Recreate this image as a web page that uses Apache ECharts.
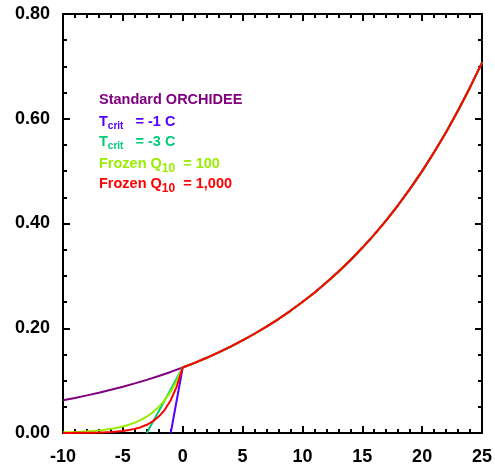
<!DOCTYPE html>
<html>
<head>
<meta charset="utf-8">
<script src="https://cdn.jsdelivr.net/npm/echarts@6/dist/echarts.min.js"></script>
<style>
  html, body { margin: 0; padding: 0; background: #fff; }
  #chart { width: 495px; height: 468px; }
</style>
</head>
<body>
<div id="chart"></div>
<script>
// standard ORCHIDEE curve (every 1 C)
const tempStd = [-10, -9, -8, -7, -6, -5, -4, -3, -2, -1, 0, 1, 2, 3, 4, 5, 6, 7, 8, 9, 10,
    11, 12, 13, 14, 15, 16, 17, 18, 19, 20, 21, 22, 23, 24, 25];
const respStd = [0.0625, 0.067, 0.0718, 0.0769, 0.0825, 0.0884, 0.0947, 0.1015, 0.1088, 0.1166, 0.125,
    0.134, 0.1436, 0.1539, 0.1649, 0.1768, 0.1895, 0.2031, 0.2176, 0.2333, 0.25,
    0.2679, 0.2872, 0.3078, 0.3299, 0.3536, 0.3789, 0.4061, 0.4353, 0.4665, 0.5,
    0.5359, 0.5743, 0.6156, 0.6598, 0.7071];

// frozen branches below 0 C (every 0.5 C)
const tempCold = [-10, -9.5, -9, -8.5, -8, -7.5, -7, -6.5, -6, -5.5, -5,
    -4.5, -4, -3.5, -3, -2.5, -2, -1.5, -1, -0.5, 0];
const respQ100 = [0.00125, 0.00157, 0.00198, 0.00249, 0.00314, 0.00395, 0.00498, 0.00627, 0.00789, 0.00993, 0.0125,
    0.0157, 0.0198, 0.0249, 0.0314, 0.0395, 0.0498, 0.0627, 0.0789, 0.0993, 0.125];
const respQ1000 = [0.000125, 0.000177, 0.00025, 0.00035, 0.0005, 0.0007, 0.00099, 0.0014, 0.00198, 0.0028, 0.00395,
    0.00558, 0.00789, 0.0111, 0.0157, 0.0222, 0.0314, 0.0443, 0.0627, 0.0885, 0.125];

// linear cut-offs
const tempCrit1 = [-1, 0];
const respCrit1 = [0, 0.125];
const tempCrit3 = [-3, 0];
const respCrit3 = [0, 0.125];

const xTicks = [-10, 25, 5];
const yTicks = [0, 0.8, 0.2];

const colors = {
    std: '#800080',
    crit1: '#5500ff',
    crit3: '#00cc77',
    q100: '#99ee00',
    q1000: '#ff0000'
};

function pairs(xs, ys) {
    return xs.map((x, i) => [x, ys[i]]);
}
// warm side is shared by every curve
const warm = pairs(tempStd, respStd).filter(p => p[0] > 0);

let chart = echarts.init(document.getElementById('chart'));

const tickLabel = { color: '#000', fontFamily: 'Liberation Sans', fontWeight: 'bold', fontSize: 18 };
const axisBase = {
    type: 'value',
    axisLine: { show: true, onZero: false, lineStyle: { color: '#000', width: 2 } },
    axisTick: { show: true, inside: true, length: 7, lineStyle: { color: '#000', width: 2 } },
    minorTick: { show: true, length: 4, lineStyle: { color: '#000', width: 2 } },
    splitLine: { show: false }
};

function lineSeries(name, data, color) {
    return {
        name, type: 'line', data, smooth: false,
        showSymbol: false, symbol: 'none', clip: true,
        lineStyle: { color, width: 2 }, xAxisIndex: 0, yAxisIndex: 0
    };
}

function label(y, parts, color) {
    return {
        type: 'text', left: 99, top: y,
        style: {
            text: parts, fill: color,
            rich: {
                b: { fontSize: 14.5, fontWeight: 'bold', fontFamily: 'Liberation Sans', lineHeight: 18, fill: color },
                s: { fontSize: 10, fontWeight: 'bold', fontFamily: 'Liberation Sans', lineHeight: 10, padding: [9, 0, 0, 0], fill: color },
                q: { fontSize: 12, fontWeight: 'bold', fontFamily: 'Liberation Sans', lineHeight: 12, padding: [11, 0, 0, 0], fill: color }
            }
        }
    };
}

const option = {
    animation: false,
    grid: { left: 63, right: 10, top: 14, bottom: 35 },
    xAxis: [
        Object.assign({}, axisBase, {
            min: xTicks[0], max: xTicks[1], interval: xTicks[2], position: 'bottom',
            minorTick: Object.assign({}, axisBase.minorTick, { splitNumber: 5 }),
            axisLabel: Object.assign({ margin: 15 }, tickLabel)
        }),
        Object.assign({}, axisBase, {
            min: xTicks[0], max: xTicks[1], interval: xTicks[2], position: 'top',
            minorTick: Object.assign({}, axisBase.minorTick, { splitNumber: 5 }),
            axisLabel: { show: false }
        })
    ],
    yAxis: [
        Object.assign({}, axisBase, {
            min: yTicks[0], max: yTicks[1], interval: yTicks[2], position: 'left',
            minorTick: Object.assign({}, axisBase.minorTick, { splitNumber: 4 }),
            axisLabel: Object.assign({ margin: 13, formatter: v => v.toFixed(2) }, tickLabel)
        }),
        Object.assign({}, axisBase, {
            min: yTicks[0], max: yTicks[1], interval: yTicks[2], position: 'right',
            minorTick: Object.assign({}, axisBase.minorTick, { splitNumber: 4 }),
            axisLabel: { show: false }
        })
    ],
    series: [
        lineSeries('Standard ORCHIDEE', pairs(tempStd, respStd), colors.std),
        lineSeries('Tcrit = -1 C', pairs(tempCrit1, respCrit1).concat(warm), colors.crit1),
        lineSeries('Tcrit = -3 C', pairs(tempCrit3, respCrit3).concat(warm), colors.crit3),
        lineSeries('Frozen Q10 = 100', pairs(tempCold, respQ100).concat(warm), colors.q100),
        lineSeries('Frozen Q10 = 1,000', pairs(tempCold, respQ1000).concat(warm), colors.q1000)
    ],
    graphic: [
        label(92, '{b|Standard ORCHIDEE}', colors.std),
        label(112, '{b|T}{s|crit}{b|   = -1 C}', colors.crit1),
        label(132, '{b|T}{s|crit}{b|   = -3 C}', colors.crit3),
        label(152, '{b|Frozen Q}{q|10}{b|  = 100}', colors.q100),
        label(172, '{b|Frozen Q}{q|10}{b|  = 1,000}', colors.q1000)
    ]
};
chart.setOption(option);
</script>
</body>
</html>
